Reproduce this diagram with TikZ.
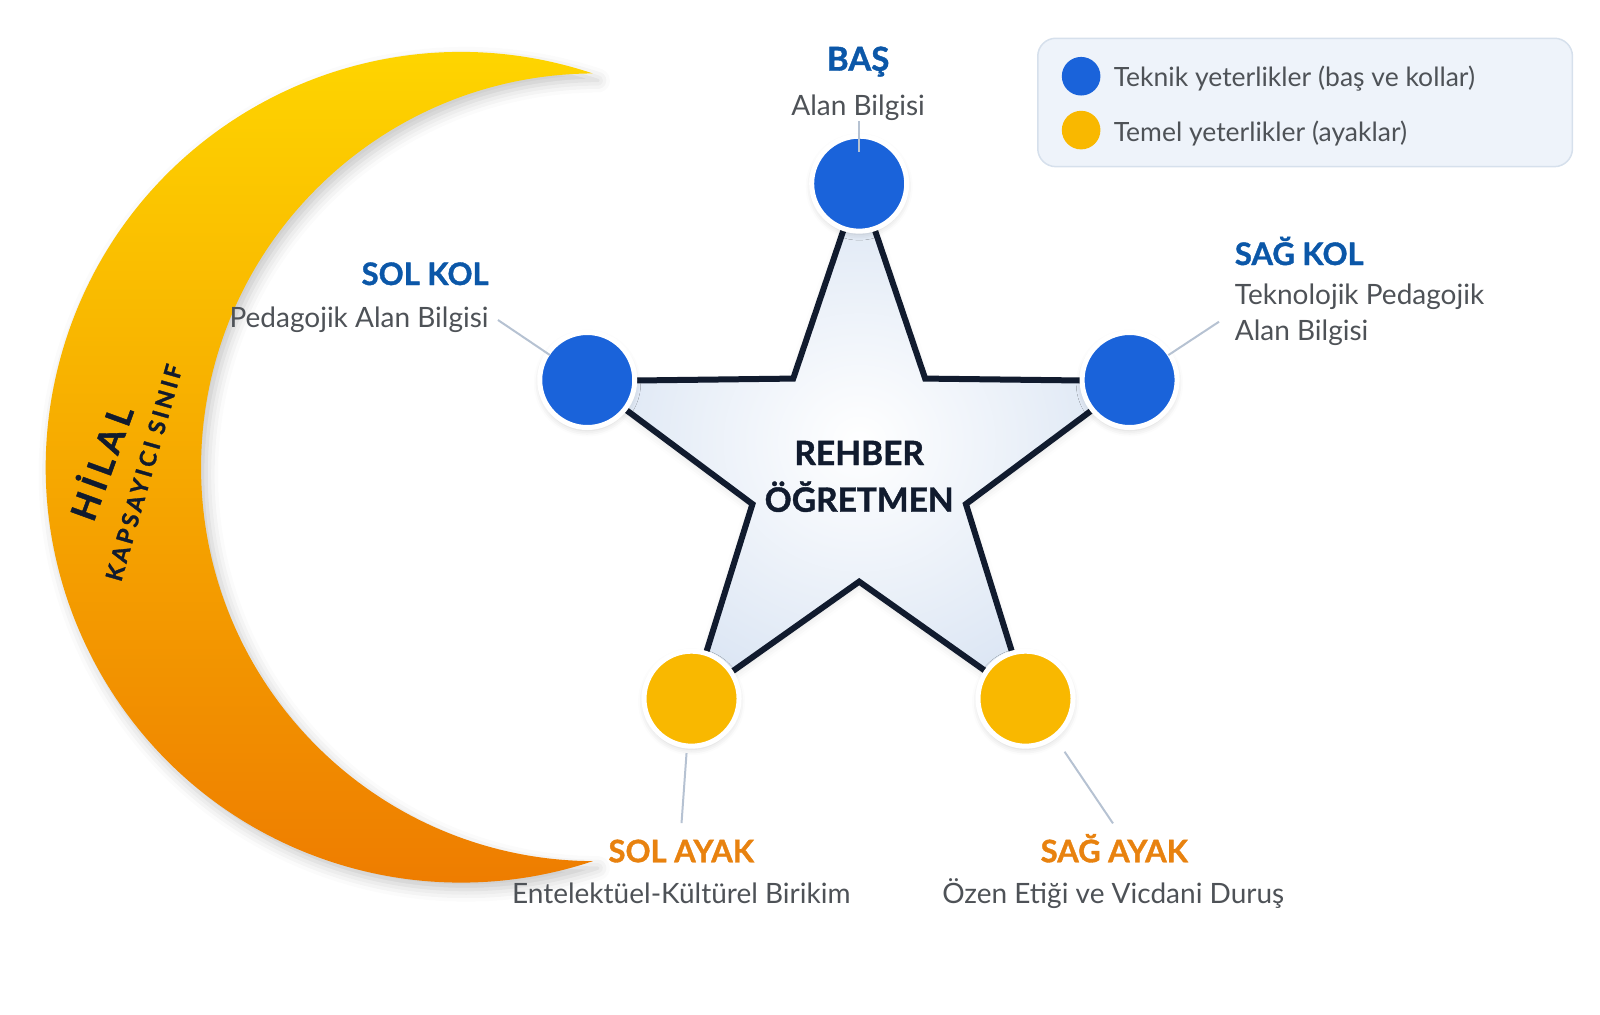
\documentclass[tikz,border=0pt]{standalone}
\usepackage{fontspec}
\setmainfont{Lato}
\usetikzlibrary{shadows.blur}
\definecolor{headblue}{HTML}{0B57A8}
\definecolor{headorange}{HTML}{E8820F}
\definecolor{descgray}{HTML}{4E5257}
\definecolor{navy}{HTML}{111B2E}
\definecolor{dotblue}{HTML}{1A63DA}
\definecolor{dotyellow}{HTML}{F9B800}
\definecolor{leadercol}{HTML}{B6C2D2}
\definecolor{legfill}{HTML}{EEF3FA}
\definecolor{legdraw}{HTML}{D6E0EC}
\definecolor{crestop}{HTML}{FFDA00}
\definecolor{cresmid}{HTML}{FABB00}
\definecolor{cresbot}{HTML}{EE7C00}
\definecolor{starout}{HTML}{DCE6F4}
\newcommand{\heavy}{\bfseries\addfontfeatures{FakeBold=1.2}}
\begin{document}
\begin{tikzpicture}[x=1.0204pt,y=-1.0204pt,
  dot/.style={circle, minimum size=95pt, inner sep=0pt, draw=white, line width=5pt,
    blur shadow={shadow xshift=0pt, shadow yshift=-3pt, shadow blur radius=6pt, shadow opacity=18}},
  bluedot/.style={dot, fill=dotblue},
  yellowdot/.style={dot, fill=dotyellow},
  legdot/.style={circle, minimum size=38.6pt, inner sep=0pt},
  headb/.style={font=\fontsize{31}{36}\selectfont\heavy, text=headblue, inner sep=0pt},
  heado/.style={font=\fontsize{31}{36}\selectfont\heavy, text=headorange, inner sep=0pt},
  desc/.style={font=\fontsize{28}{34}\selectfont, text=descgray, inner sep=0pt},
  legtext/.style={font=\fontsize{26.5}{32}\selectfont, text=descgray, inner sep=0pt, anchor=base west},
  centertext/.style={font=\fontsize{33.5}{38}\selectfont\heavy, text=navy, inner sep=0pt, anchor=base},
  leader/.style={draw=leadercol, line width=2pt},
]
\useasboundingbox (0,0) rectangle (1568,994.7);
% crescent
\shade[top color=crestop, middle color=cresmid, bottom color=cresbot,
  blur shadow={shadow xshift=5pt, shadow yshift=-7pt, shadow blur radius=12pt, shadow opacity=22}]
  (581,72) arc[start angle=-71.5, end angle=-288.5, radius=407]
  arc[start angle=90.3, end angle=269.7, radius=386] -- cycle;
\node[font=\fontsize{35}{40}\selectfont\heavy\addfontfeatures{LetterSpace=15}, text=navy, rotate=70, inner sep=0pt] (hilal) at (96.7,452.4) {HİLAL};
\node[font=\fontsize{23}{26}\selectfont\heavy\addfontfeatures{LetterSpace=15}, text=navy, rotate=74, inner sep=0pt] (kapsayici) at (141,463.2) {KAPSAYICI SINIF};
% star
\begin{scope}[shift={(842,460)}]
\path[draw=navy, line width=6pt, line join=miter, inner color=white, outer color=starout,
  blur shadow={shadow xshift=0pt, shadow yshift=-4pt, shadow blur radius=8pt, shadow opacity=12}]
  (-90:280) -- (-54:110) -- (-18:280) -- (18:110) -- (54:280) -- (90:110)
  -- (126:280) -- (162:110) -- (198:280) -- (234:110) -- cycle;
\end{scope}
\node[centertext] (rehber) at (842,455.7) {REHBER};
\node[centertext] (ogretmen) at (842,501.5) {ÖĞRETMEN};
% circles
\node[bluedot] (bas) at (842,180) {};
\node[bluedot] (solkol) at (575.5,372.4) {};
\node[bluedot] (sagkol) at (1107,372.4) {};
\node[yellowdot] (solayak) at (677.7,684.7) {};
\node[yellowdot] (sagayak) at (1005,684.7) {};
% labels
\node[headb, anchor=base, font=\fontsize{33}{38}\selectfont\heavy] (bast) at (841,69.3) {BAŞ};
\node[desc, anchor=base] (basd) at (841,112.7) {Alan Bilgisi};
\node[headb, anchor=base east] (solkolt) at (479,279.3) {SOL KOL};
\node[desc, anchor=base east] (solkold) at (479,320.8) {Pedagojik Alan Bilgisi};
\node[headb, anchor=base west] (sagkolt) at (1210,259.7) {SAĞ KOL};
\node[desc, anchor=base west] (sagkold) at (1210,298) {Teknolojik Pedagojik};
\node[desc, anchor=base west] (sagkole) at (1210,334) {Alan Bilgisi};
\node[heado, anchor=base] (solayakt) at (667.6,845) {SOL AYAK};
\node[desc, anchor=base] (solayakd) at (667.6,885) {Entelektüel-Kültürel Birikim};
\node[heado, anchor=base] (sagayakt) at (1092,845) {SAĞ AYAK};
\node[desc, anchor=base] (sagayakd) at (1091,885) {Özen Etiği ve Vicdani Duruş};
% leaders
\coordinate (l1a) at (842,119); \coordinate (l1b) at (842,148.7);
\coordinate (l2a) at (488,313.6); \coordinate (l2b) at (539,348);
\coordinate (l3a) at (1194.6,315.3); \coordinate (l3b) at (1145,348);
\coordinate (l4a) at (672.8,738); \coordinate (l4b) at (667.9,806.6);
\coordinate (l5a) at (1043.3,736.7); \coordinate (l5b) at (1090.7,806.9);
\draw[leader] (l1a) -- (l1b);
\draw[leader] (l2a) -- (l2b);
\draw[leader] (l3a) -- (l3b);
\draw[leader] (l4a) -- (l4b);
\draw[leader] (l5a) -- (l5b);
% legend
\draw[fill=legfill, draw=legdraw, line width=1.5pt, rounded corners=18pt] (1017,37.5) rectangle (1541,163.3);
\node[legdot, fill=dotblue] (legblue) at (1059.5,74.7) {};
\node[legdot, fill=dotyellow] (legyellow) at (1059.5,127.5) {};
\node[legtext] (legt1) at (1091.3,85) {Teknik yeterlikler (baş ve kollar)};
\node[legtext] (legt2) at (1091.3,138.2) {Temel yeterlikler (ayaklar)};
\end{tikzpicture}
\end{document}
